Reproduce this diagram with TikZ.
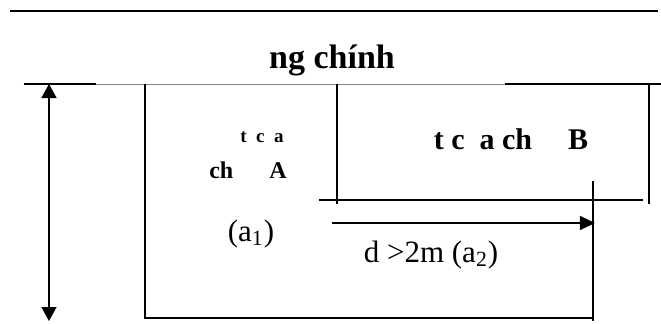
\documentclass[tikz,border=0pt]{standalone}
\usepackage{fontspec}
\setmainfont{Liberation Serif}
\usetikzlibrary{arrows.meta}

\begin{document}
\begin{tikzpicture}[x=0.5pt, y=-0.5pt]

    % 寸法の定義
    \pgfmathsetmacro{\yTop}{11}
    \pgfmathsetmacro{\yEdge}{84}
    \pgfmathsetmacro{\xA}{145}
    \pgfmathsetmacro{\xB}{337}
    \pgfmathsetmacro{\xD}{593}

    \useasboundingbox (0,0) rectangle (661,323);

    % 座標の定義
    \coordinate (T1) at (10,\yTop);
    \coordinate (T2) at (658,\yTop);
    \coordinate (E1) at (24,\yEdge);
    \coordinate (E2) at (96,\yEdge);
    \coordinate (E3) at (505,\yEdge);
    \coordinate (E4) at (661,\yEdge);
    \coordinate (H1) at (49,\yEdge);
    \coordinate (H2) at (49,321);
    \coordinate (A1) at (\xA,\yEdge);
    \coordinate (A2) at (\xA,318);
    \coordinate (A3) at (\xD,318);
    \coordinate (D1) at (\xD,181);
    \coordinate (D2) at (\xD,321);
    \coordinate (B1) at (\xB,\yEdge);
    \coordinate (B2) at (\xB,204);
    \coordinate (B3) at (319,200);
    \coordinate (B4) at (643,200);
    \coordinate (B5) at (649,\yEdge);
    \coordinate (B6) at (649,204);
    \coordinate (W1) at (332,223);
    \coordinate (W2) at (595,223);

    % 線の描画
    \draw [line width=1pt] (T1) -- (T2);
    \draw [line width=1pt] (E1) -- (E2);
    \draw [line width=0.5pt, gray] (E2) -- (E3);
    \draw [line width=1pt] (E3) -- (E4);
    \draw [line width=0.8pt] (A1) -- (A2) -- (A3);
    \draw [line width=0.8pt] (D1) -- (D2);
    \draw [line width=0.8pt] (B1) -- (B2);
    \draw [line width=0.8pt] (B3) -- (B4);
    \draw [line width=0.8pt] (B5) -- (B6);

    % 矢印の描画
    \draw [line width=0.8pt, {Triangle[length=7pt,width=7.5pt]}-{Triangle[length=7pt,width=7.5pt]}] (H1) -- (H2);
    \draw [line width=0.6pt, -{Triangle[length=7.5pt,width=7pt]}] (W1) -- (W2);

    % 文字の配置
    \node (title) [anchor=base, font=\fontsize{17}{20}\selectfont\bfseries] at (332,68) {ng chính};
    \node (zoneAtop) [anchor=base, font=\fontsize{9.5}{11}\selectfont\bfseries] at (262,142) {t\ \ c\ \ a};
    \node (zoneA) [anchor=base, font=\fontsize{12}{14}\selectfont\bfseries] at (248,178) {ch\hspace{1.5em}A};
    \node (zoneB) [anchor=base, font=\fontsize{15}{18}\selectfont\bfseries] at (511,149) {t c\hspace{0.5em}a ch\hspace{1.2em}B};
    \node (gapA) [anchor=base, font=\fontsize{15.5}{18}\selectfont] at (251,241) {(a\textsubscript{1})};
    \node (gapB) [anchor=base, font=\fontsize{15.5}{18}\selectfont] at (431,262) {d >2m (a\textsubscript{2})};

\end{tikzpicture}
\end{document}
